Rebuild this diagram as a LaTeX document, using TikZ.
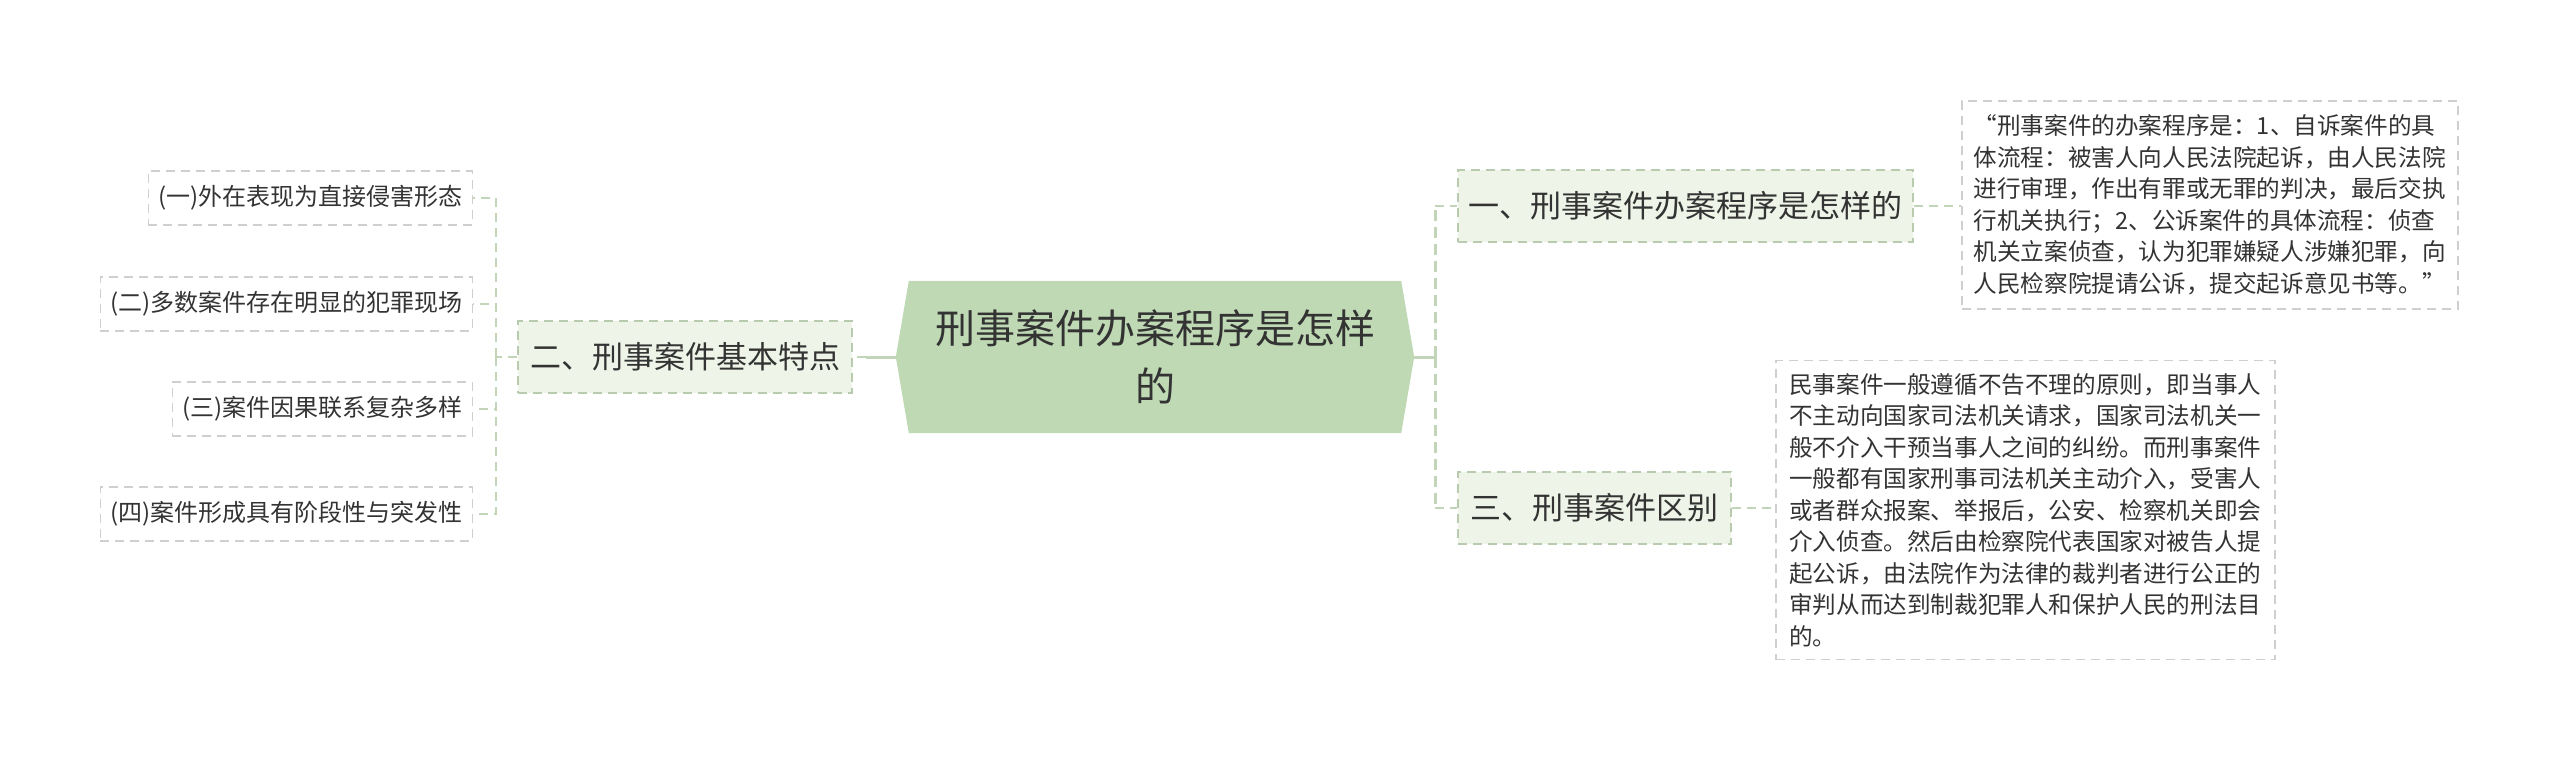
\documentclass[tikz,border=0pt]{standalone}
\usepackage{fontspec}
\newfontfamily\cjk{Noto Sans CJK SC}
\usetikzlibrary{backgrounds}
\definecolor{cfill}{HTML}{BFD9B4}
\definecolor{lfill}{HTML}{EEF5E8}
\definecolor{lborder}{HTML}{B9CBAE}
\definecolor{gborder}{HTML}{CFCFCF}
\definecolor{conn}{HTML}{C3D5B9}
\definecolor{txt}{HTML}{333333}
\tikzset{
  every node/.style={font=\cjk, text=txt, inner sep=0pt},
  centralnode/.style={minimum width=518pt, minimum height=152pt, align=center,
    font=\cjk\fontsize{40}{58}\selectfont},
  levelone/.style={draw=lborder, fill=lfill, line width=1.5pt, dash pattern=on 9pt off 6pt,
    minimum height=72pt, font=\cjk\fontsize{31}{36}\selectfont},
  leaf/.style={draw=gborder, line width=1.5pt, dash pattern=on 9pt off 6pt,
    minimum height=54pt, font=\cjk\fontsize{24}{28}\selectfont},
  textbox/.style={draw=gborder, line width=1.5pt, dash pattern=on 9pt off 6pt,
    align=left, font=\cjk\fontsize{23.6}{31.5}\selectfont},
  dconn/.style={draw=conn, line width=2pt, dash pattern=on 9pt off 6pt},
  trunk/.style={draw=conn, line width=3pt, dash pattern=on 11pt off 6pt},
  sconn/.style={draw=conn, line width=3pt},
}
\begin{document}
\begin{tikzpicture}[x=1pt,y=-1pt]
\useasboundingbox (0,0) rectangle (2560,760);

% central node
\node[centralnode] (c) at (1155,357) {刑事案件办案程序是怎样\\的};
\begin{pgfonlayer}{background}
\fill[cfill] (c.west) -- ([xshift=13pt]c.north west) -- ([xshift=-13pt]c.north east)
  -- (c.east) -- ([xshift=-13pt]c.south east) -- ([xshift=13pt]c.south west) -- cycle;
\end{pgfonlayer}

% level one nodes
\node[levelone, minimum width=455pt] (n1) at (1685.5,206) {一、刑事案件办案程序是怎样的};
\node[levelone, minimum width=273pt] (n3) at (1594.5,508) {三、刑事案件区别};
\node[levelone, minimum width=334pt] (n2) at (685,357) {二、刑事案件基本特点};

% leaves
\node[leaf, minimum width=324pt, anchor=east] (l1) at (473,198) {(一)外在表现为直接侵害形态};
\node[leaf, minimum width=372pt, anchor=east] (l2) at (473,304) {(二)多数案件存在明显的犯罪现场};
\node[leaf, minimum width=300pt, anchor=east] (l3) at (473,409) {(三)案件因果联系复杂多样};
\node[leaf, minimum width=372pt, anchor=east] (l4) at (473,514) {(四)案件形成具有阶段性与突发性};

% text boxes
\node[textbox, minimum width=496pt, minimum height=208pt, anchor=west] (t1) at (1961,205) {“刑事案件的办案程序是：1、自诉案件的具\\体流程：被害人向人民法院起诉，由人民法院\\进行审理，作出有罪或无罪的判决，最后交执\\行机关执行；2、公诉案件的具体流程：侦查\\机关立案侦查，认为犯罪嫌疑人涉嫌犯罪，向\\人民检察院提请公诉，提交起诉意见书等。”};
\node[textbox, minimum width=499pt, minimum height=299pt, anchor=west] (t3) at (1775,510) {民事案件一般遵循不告不理的原则，即当事人\\不主动向国家司法机关请求，国家司法机关一\\般不介入干预当事人之间的纠纷。而刑事案件\\一般都有国家刑事司法机关主动介入，受害人\\或者群众报案、举报后，公安、检察机关即会\\介入侦查。然后由检察院代表国家对被告人提\\起公诉，由法院作为法律的裁判者进行公正的\\审判从而达到制裁犯罪人和保护人民的刑法目\\的。};

% coordinates for trunks
\coordinate (rt) at (1435,357);
\coordinate (lt) at (496,357);
\coordinate (ls) at (866,357);

% right side connectors
\draw[sconn] (c.east) -- (rt);
\draw[trunk] (rt) -- (rt |- n1.west);
\draw[trunk] (rt) -- (rt |- n3.west);
\draw[dconn] (rt |- n1.west) -- (n1.west);
\draw[dconn] (rt |- n3.west) -- (n3.west);
\draw[dconn] (n1.east) -- (t1.west |- n1.east);
\draw[dconn] (n3.east) -- (t3.west |- n3.east);

% left side connectors
\draw[sconn] (c.west) -- (ls);
\draw[dconn] (ls) -- (n2.east);
\draw[dconn] (n2.west) -- (lt);
\draw[dconn] (lt) -- (lt |- l1.east) -- (l1.east);
\draw[dconn] (lt) -- (lt |- l2.east) -- (l2.east);
\draw[dconn] (lt) -- (lt |- l3.east) -- (l3.east);
\draw[dconn] (lt) -- (lt |- l4.east) -- (l4.east);
\end{tikzpicture}
\end{document}
